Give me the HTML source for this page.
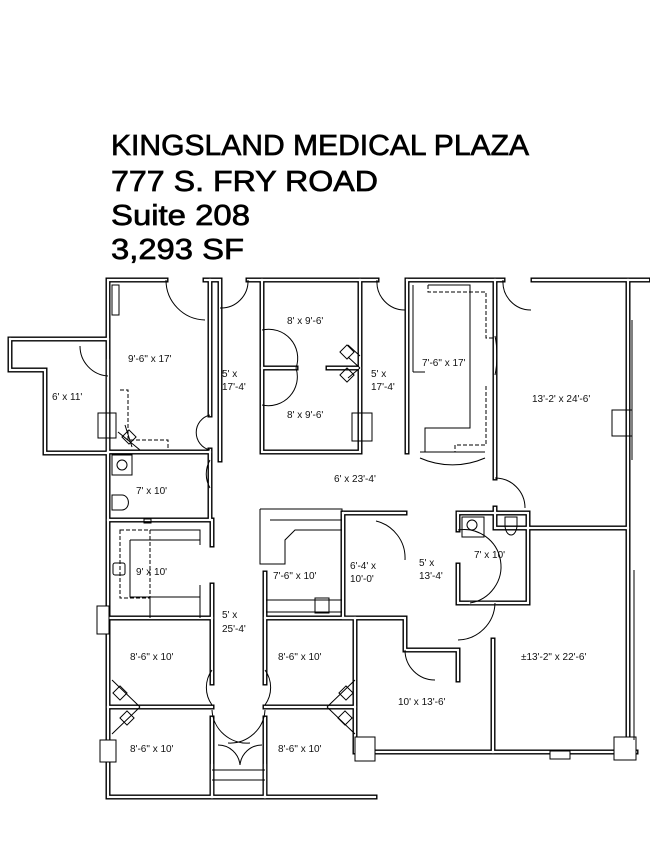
<!DOCTYPE html>
<html><head><meta charset="utf-8"><style>
html,body{margin:0;padding:0;background:#fff}
svg{display:block}
.t{font-family:"Liberation Sans",Arial,sans-serif;font-size:29px;fill:#000;stroke:#000;stroke-width:0.7}
.l{font-family:"Liberation Sans",Arial,sans-serif;font-size:10px;fill:#111}
</style></head><body>
<svg width="650" height="841" viewBox="0 0 650 841" xmlns="http://www.w3.org/2000/svg">
<rect width="650" height="841" fill="#fff"/>
<text class="t" x="111" y="155" textLength="418" lengthAdjust="spacingAndGlyphs">KINGSLAND MEDICAL PLAZA</text>
<text class="t" x="111" y="191" textLength="267" lengthAdjust="spacingAndGlyphs">777 S. FRY ROAD</text>
<text class="t" x="111" y="225" textLength="139" lengthAdjust="spacingAndGlyphs">Suite 208</text>
<text class="t" x="111" y="259" textLength="133" lengthAdjust="spacingAndGlyphs">3,293 SF</text>

<g fill="none" stroke-linejoin="miter" stroke-linecap="square">
<g stroke="#000" stroke-width="5">
<path d="M10,339 H108 V280 H166"/><path d="M205,280 H220 V460"/>
<path d="M248,280 H377"/><path d="M407,280 H503"/><path d="M533,280 H648"/>
<path d="M10,339 V370 H45 V453 H108"/>
<path d="M108,339 V797 H375"/>
<path d="M108,360 V452"/>
<path d="M210,280 V415"/><path d="M210,450 V520 H108"/>
<path d="M108,452 H210"/>
<path d="M262,280 V452 H360 V280"/>
<path d="M262,368 H296"/><path d="M328,368 H360"/>
<path d="M407,280 V452"/><path d="M495,280 V478"/><path d="M495,508 V528 H628"/>
<path d="M628,280 V755"/>
<path d="M212,520 V545"/><path d="M212,585 V683"/><path d="M212,718 V797"/>
<path d="M265,573 V683"/><path d="M265,718 V797"/>
<path d="M108,618 H212"/><path d="M108,707 H212"/>
<path d="M265,618 H355"/><path d="M265,707 H355 V752"/>
<path d="M355,618 V707"/>
<path d="M343,513 H405"/><path d="M343,513 V618 H405 V650 H458 V680"/>
<path d="M458,513 H528 V603 H470"/><path d="M458,513 V530"/><path d="M458,565 V603 H495"/>
<path d="M493,640 V752"/>
<path d="M375,752 H636"/>
<path d="M212,765 V797"/><path d="M265,765 V797"/>
</g>
<g stroke="#fff" stroke-width="2.2">
<path d="M10,339 H108 V280 H166"/><path d="M205,280 H220 V460"/>
<path d="M248,280 H377"/><path d="M407,280 H503"/><path d="M533,280 H648"/>
<path d="M10,339 V370 H45 V453 H108"/>
<path d="M108,339 V797 H375"/>
<path d="M108,360 V452"/>
<path d="M210,280 V415"/><path d="M210,450 V520 H108"/>
<path d="M108,452 H210"/>
<path d="M262,280 V452 H360 V280"/>
<path d="M262,368 H296"/><path d="M328,368 H360"/>
<path d="M407,280 V452"/><path d="M495,280 V478"/><path d="M495,508 V528 H628"/>
<path d="M628,280 V755"/>
<path d="M212,520 V545"/><path d="M212,585 V683"/><path d="M212,718 V797"/>
<path d="M265,573 V683"/><path d="M265,718 V797"/>
<path d="M108,618 H212"/><path d="M108,707 H212"/>
<path d="M265,618 H355"/><path d="M265,707 H355 V752"/>
<path d="M355,618 V707"/>
<path d="M343,513 H405"/><path d="M343,513 V618 H405 V650 H458 V680"/>
<path d="M458,513 H528 V603 H470"/><path d="M458,513 V530"/><path d="M458,565 V603 H495"/>
<path d="M493,640 V752"/>
<path d="M375,752 H636"/>
<path d="M212,765 V797"/><path d="M265,765 V797"/>
</g>
</g>

<g fill="none" stroke="#000" stroke-width="1">
<path d="M166,280 A40,40 0 0 0 205,320"/>
<path d="M248,280 A27,27 0 0 1 220,308"/>
<path d="M377,280 A28,28 0 0 0 405,310"/>
<path d="M503,280 A28,28 0 0 0 531,310"/>
<path d="M80,346 A30,30 0 0 0 108,376"/>
<path d="M210,415 A18,18 0 0 0 210,450"/>
<path d="M210,460 A28,28 0 0 0 210,488"/>
<path d="M262,330 A29,29 0 0 1 296,368"/>
<path d="M262,405 A29,29 0 0 0 296,368"/>
<path d="M495,478 A30,30 0 0 1 525,508"/>
<path d="M376,521 A38,38 0 0 1 405,560"/>
<path d="M458,530 A35,35 0 0 1 470,603"/>
<path d="M495,603 A38,38 0 0 1 458,640"/>
<path d="M405,650 A30,30 0 0 0 435,680"/>
<path d="M212,670 A30,30 0 0 0 212,705 M212,710 A35,35 0 0 0 250,743"/>
<path d="M265,670 A30,30 0 0 1 265,705 M265,710 A35,35 0 0 1 228,743"/>
<path d="M218,745 A22,22 0 0 1 240,765 A22,22 0 0 1 262,745"/>
<path d="M212,770 H265 M212,780 H265"/>
<path d="M420,458 A80,80 0 0 0 485,458 M420,452 H485"/>
<path d="M495,336 A8,30 0 0 1 495,375"/>
<path d="M260,509 H342 V512 M260,509 V564 H285 V540 L295,530 H342 M270,520 H342"/>
<path d="M266,600 H342 M266,612 H342"/>
<rect x="315" y="598" width="14" height="15"/>
<path d="M413,285 V372 M428,285 H470 V428 H425 V452 M413,372 H425"/>
<path stroke-dasharray="4,2" d="M428,285 V292 H486 V338 H493 M486,386 V445 H455 V452"/>
<rect x="98" y="413" width="18" height="25"/>
<rect x="612" y="410" width="20" height="26"/>
<rect x="352" y="413" width="20" height="28"/>
<rect x="112" y="285" width="7" height="30"/>
<path stroke-dasharray="4,2" d="M120,390 H128 V440 H168 V450"/>
<path stroke-dasharray="4,2" d="M120,530 H150 V598 H120 Z"/>
<path d="M150,530 H200 V545 M130,540 H200 M130,540 V597 H200 M150,598 V618 M200,585 V618"/>
<rect x="112" y="455" width="20" height="20"/><circle cx="122" cy="465" r="5"/>
<path d="M112,495 V510 H122 A6,7 0 0 0 122,495 Z"/>
<rect x="144" y="519" width="7" height="4"/>
<rect x="462" y="517" width="22" height="20"/><circle cx="472" cy="525" r="5"/>
<path d="M505,517 H517 V525 A6,10 0 0 1 505,525 Z"/>
<rect x="113" y="563" width="12" height="12" rx="2"/>
<path d="M118,432 L140,450 M125,425 L132,447 M348,345 L360,356 M348,357 L360,368 M348,378 L360,368"/>
<rect x="124" y="432" width="10" height="10" transform="rotate(45 129 437)"/>
<rect x="342" y="347" width="10" height="10" transform="rotate(45 347 352)"/>
<rect x="342" y="370" width="10" height="10" transform="rotate(45 347 375)"/>
<path d="M112,680 L140,707 M112,734 L140,707 M355,680 L327,707 M355,734 L327,707"/>
<rect x="115" y="688" width="10" height="10" transform="rotate(45 120 693)"/>
<rect x="122" y="713" width="10" height="10" transform="rotate(45 127 718)"/>
<rect x="341" y="688" width="10" height="10" transform="rotate(45 346 693)"/>
<rect x="340" y="713" width="10" height="10" transform="rotate(45 345 718)"/>
<rect x="97" y="606" width="12" height="28" fill="#fff"/>
<rect x="100" y="740" width="16" height="22" fill="#fff"/>
<rect x="355" y="737" width="20" height="24" fill="#fff"/>
<rect x="614" y="737" width="22" height="23" fill="#fff"/>
<rect x="550" y="751" width="20" height="8" fill="#fff"/>
<path d="M632,320 V460 M634,570 V740"/>
</g>

<g class="l">
<text x="128" y="362">9'-6" x 17'</text>
<text x="52" y="400">6' x 11'</text>
<text x="222" y="377">5' x</text><text x="222" y="390">17'-4'</text>
<text x="287" y="324">8' x 9'-6'</text>
<text x="287" y="418">8' x 9'-6'</text>
<text x="371" y="377">5' x</text><text x="371" y="390">17'-4'</text>
<text x="422" y="366">7'-6" x 17'</text>
<text x="532" y="402">13'-2' x 24'-6'</text>
<text x="334" y="482">6' x 23'-4'</text>
<text x="136" y="494">7' x 10'</text>
<text x="136" y="575">9' x 10'</text>
<text x="273" y="579">7'-6" x 10'</text>
<text x="350" y="569">6'-4' x</text><text x="350" y="582">10'-0'</text>
<text x="419" y="566">5' x</text><text x="419" y="579">13'-4'</text>
<text x="474" y="558">7' x 10'</text>
<text x="222" y="618">5' x</text><text x="222" y="632">25'-4'</text>
<text x="130" y="660">8'-6" x 10'</text>
<text x="278" y="660">8'-6" x 10'</text>
<text x="521" y="660">±13'-2" x 22'-6'</text>
<text x="398" y="705">10' x 13'-6'</text>
<text x="130" y="752">8'-6" x 10'</text>
<text x="278" y="752">8'-6" x 10'</text>
</g>
</svg>
</body></html>
